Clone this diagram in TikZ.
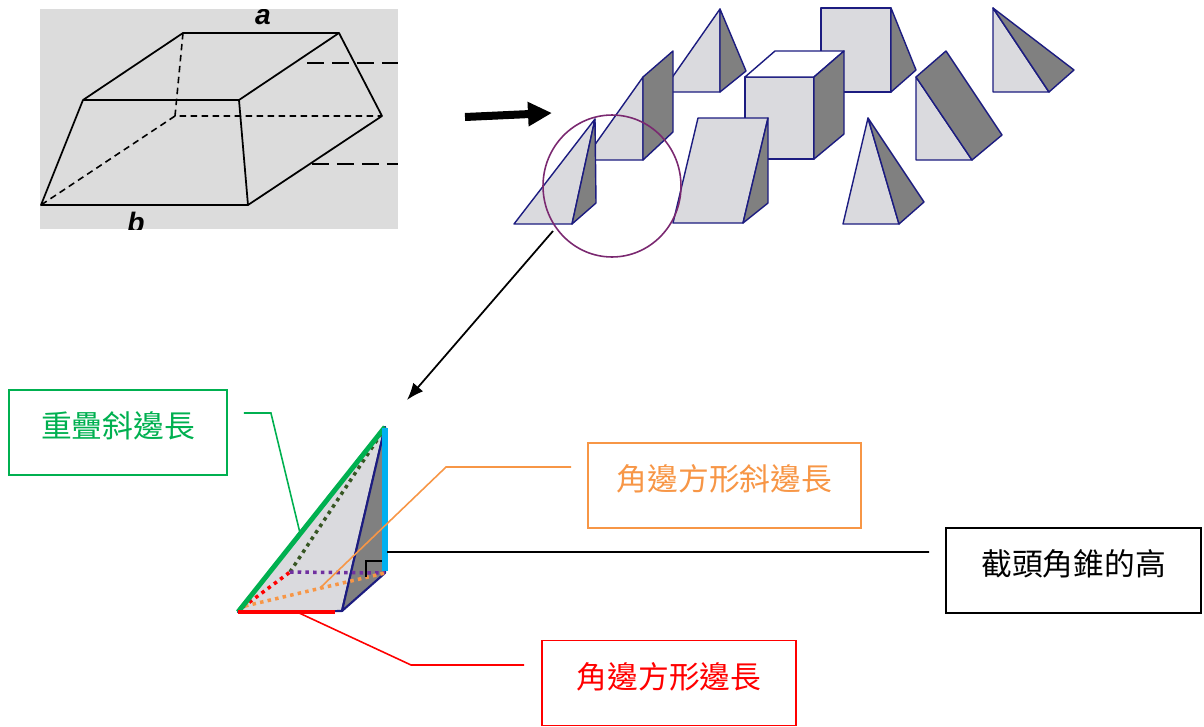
\documentclass[tikz,border=0pt]{standalone}
\usepackage{fontspec}
\newfontfamily\cjk{Noto Sans CJK TC}
\newfontfamily\latinfont{Liberation Sans}
\usetikzlibrary{arrows.meta}
\definecolor{facelite}{HTML}{DADADE}
\definecolor{facedark}{HTML}{808080}
\definecolor{edgeblue}{HTML}{1C1C80}
\definecolor{plate}{HTML}{DCDCDC}
\definecolor{taggreen}{HTML}{00B050}
\definecolor{tagorange}{HTML}{F79646}
\definecolor{tagcyan}{HTML}{00B0F0}
\definecolor{tagpurple}{HTML}{7030A0}
\definecolor{dotgreen}{HTML}{375623}
\definecolor{ringpurple}{HTML}{7A2870}
\tikzset{
  liteface/.style={fill=facelite,draw=edgeblue,line width=0.8pt,line join=round},
  darkface/.style={fill=facedark,draw=edgeblue,line width=0.8pt,line join=round},
  tagbox/.style={draw,line width=1.1pt,minimum height=1.7cm,text height=0.55cm,
    text depth=0.35cm,font=\cjk\fontsize{17.5}{20}\selectfont},
  leader/.style={line width=0.9pt},
  dotline/.style={line width=2pt,dash pattern=on 2pt off 2.4pt}
}
\begin{document}
\begin{tikzpicture}[x=0.02cm,y=-0.02cm]
  \useasboundingbox (0,0) rectangle (1204,727);

  % frustum plate
  \fill[plate] (40,9) rectangle (398,229);
  \begin{scope}
    \clip (40,9) rectangle (398,229);
    \coordinate (tbl) at (183,33);
    \coordinate (tbr) at (339,33);
    \coordinate (tfl) at (83,100);
    \coordinate (tfr) at (239,100);
    \coordinate (bfl) at (41,205);
    \coordinate (bfr) at (248,205);
    \coordinate (bbr) at (382,116);
    \coordinate (bbl) at (175,116);
    \draw[line width=1pt,line join=round] (tbl) -- (tbr) -- (tfr) -- (tfl) -- cycle;
    \draw[line width=1pt,line join=round] (tfl) -- (bfl) -- (bfr) -- (tfr);
    \draw[line width=1pt,line join=round] (bfr) -- (bbr) -- (tbr);
    \draw[line width=0.9pt,dash pattern=on 0.13cm off 0.09cm] (tbl) -- (bbl) -- (bbr);
    \draw[line width=0.9pt,dash pattern=on 0.13cm off 0.09cm] (bbl) -- (bfl);
    \foreach \y/\x in {63/307,164/312}
      \draw[line width=1.4pt,dash pattern=on 0.34cm off 0.16cm] (\x,\y) -- (398,\y);
    \node[font=\latinfont\bfseries\itshape\fontsize{16}{18}\selectfont] (lab-a) at (263,17) {a};
    \node[font=\latinfont\bfseries\itshape\fontsize{16}{18}\selectfont] (lab-b) at (136,222) {b};
  \end{scope}

  \draw[line width=0.16cm,-{Triangle[length=0.48cm,width=0.46cm]}] (465,117) -- (552,113);

  % solids, back to front
  \draw[liteface] (662,92) -- (720,9) -- (720,92) -- cycle;
  \draw[darkface] (720,9) -- (746,71) -- (720,92) -- cycle;
  \draw[liteface] (821,8) -- (891,8) -- (891,92) -- (821,92) -- cycle;
  \draw[darkface] (891,8) -- (916,70) -- (891,92) -- cycle;
  \draw[liteface] (993,8) -- (993,92) -- (1049,92) -- cycle;
  \draw[darkface] (993,8) -- (1074,70) -- (1049,92) -- cycle;
  \draw[liteface] (584,160) -- (643,77) -- (643,160) -- cycle;
  \draw[darkface] (643,77) -- (673,51) -- (673,132) -- (643,160) -- cycle;
  \draw[liteface] (745,77) -- (814,77) -- (814,159) -- (745,159) -- cycle;
  \draw[liteface,fill=white] (745,77) -- (775,51) -- (844,51) -- (814,77) -- cycle;
  \draw[darkface] (814,77) -- (844,51) -- (844,134) -- (814,159) -- cycle;
  \draw[liteface] (916,77) -- (916,160) -- (972,160) -- cycle;
  \draw[darkface] (916,77) -- (946,51) -- (1002,135) -- (972,160) -- cycle;
  \draw[liteface] (514,224) -- (595,119) -- (572,224) -- cycle;
  \draw[darkface] (572,224) -- (595,119) -- (596,203) -- cycle;
  \draw[liteface] (673,223) -- (698,118) -- (768,118) -- (743,223) -- cycle;
  \draw[darkface] (768,118) -- (768,203) -- (743,223) -- cycle;
  \draw[liteface] (843,224) -- (868,118) -- (899,224) -- cycle;
  \draw[darkface] (868,118) -- (924,202) -- (899,224) -- cycle;

  \draw[ringpurple,line width=0.9pt] (612,186) ellipse [x radius=1.38cm,y radius=1.42cm];
  \coordinate (ringfoot) at (553,231);
  \coordinate (bigtop) at (407,400);
  \draw[line width=1pt,-{Latex[length=0.34cm,width=0.26cm]}] (ringfoot) -- (bigtop);

  % enlarged corner piece
  \coordinate (tl) at (238,612);
  \coordinate (ta) at (385,427);
  \coordinate (tr) at (342,611);
  \coordinate (td) at (385,573);
  \coordinate (tm) at (290,572);
  \draw[liteface,line width=1.2pt] (tl) -- (ta) -- (tr) -- cycle;
  \draw[darkface,line width=1.2pt] (tr) -- (ta) -- (td) -- cycle;
  \draw[dotline,dotgreen] (tm) -- (381,434);
  \draw[dotline,red] (243,607) -- (tm);
  \draw[dotline,tagpurple] (tm) -- (td);
  \draw[dotline,tagorange] (245,606) -- (td);
  \draw[taggreen,line width=2.8pt] (tl) -- (ta);
  \draw[red,line width=2pt] (tl) -- (335,612);
  \draw[line width=0.7pt] (366,577) -- (366,561) -- (382,561);
  \draw[tagcyan,line width=3.2pt] (385,428) -- (385,571);

  % tags
  \node[tagbox,draw=taggreen,text=taggreen,minimum width=4.36cm] (hypo) at (118,432.5) {重疊斜邊長};
  \node[tagbox,draw=tagorange,text=tagorange,minimum width=5.46cm] (sqslant) at (724.5,485.5) {角邊方形斜邊長};
  \node[tagbox,minimum width=5.1cm] (frustumh) at (1073.5,570.5) {截頭角錐的高};
  \node[tagbox,draw=red,text=red,minimum width=5.08cm] (sqside) at (669,683) {角邊方形邊長};

  \coordinate (hypo-in) at (300,533);
  \coordinate (slant-in) at (320,588);
  \coordinate (height-in) at (387,552);
  \coordinate (side-in) at (297,612);
  \draw[leader,taggreen] ([xshift=0.32cm,yshift=0.39cm]hypo.east) -- ++(27,0) -- (hypo-in);
  \draw[leader,tagorange] ([xshift=-0.32cm,yshift=0.37cm]sqslant.west) -- ++(-125,0) -- (slant-in);
  \draw[leader,line width=1.1pt] ([xshift=-0.32cm,yshift=0.37cm]frustumh.west) -- (height-in);
  \draw[leader,red] ([xshift=-0.34cm,yshift=0.36cm]sqside.west) -- ++(-113,0) -- (side-in);
\end{tikzpicture}
\end{document}
